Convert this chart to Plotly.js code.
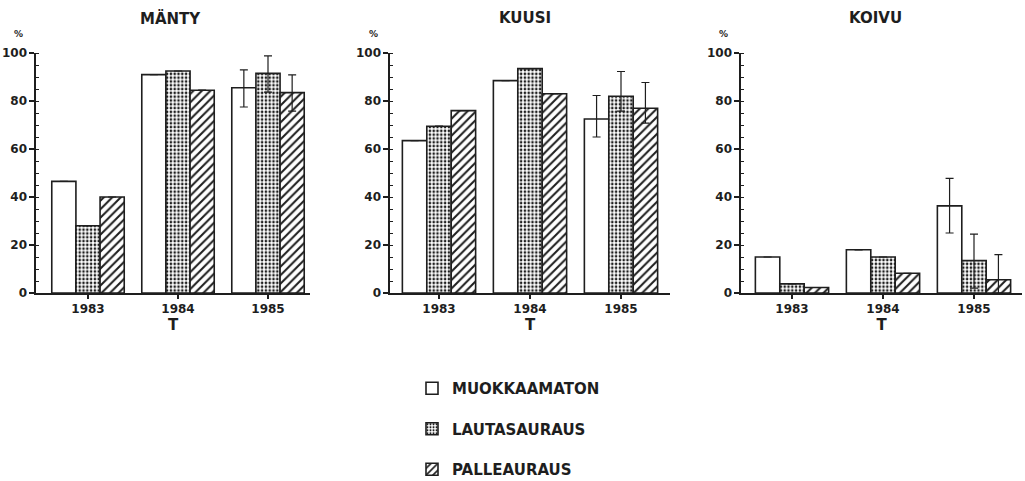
<!DOCTYPE html>
<html><head><meta charset="utf-8">
<script src="https://cdn.plot.ly/plotly-3.0.1.min.js"></script>
<style>html,body{margin:0;padding:0;background:#fff}#chart{width:1025px;height:481px}</style>
</head><body><div id="chart"></div>
<script>
// ---- data ----
const years = ['1983', '1984', '1985'];
const seriesNames = ['MUOKKAAMATON', 'LAUTASAURAUS', 'PALLEAURAUS'];
const panelTitles = ['MÄNTY', 'KUUSI', 'KOIVU'];

// MÄNTY
const mantyMuok = [46.5, 91, 85.5];
const mantyLauta = [28, 92.5, 91.5];
const mantyPalle = [40, 84.5, 83.5];
const mantyMuokErrUp = [null, null, 7.5];
const mantyMuokErrDown = [null, null, 8];
const mantyLautaErrUp = [null, null, 7.3];
const mantyLautaErrDown = [null, null, 7.8];
const mantyPalleErrUp = [null, null, 7.4];
const mantyPalleErrDown = [null, null, 7.7];

// KUUSI
const kuusiMuok = [63.5, 88.5, 72.5];
const kuusiLauta = [69.5, 93.5, 82];
const kuusiPalle = [76, 83, 77];
const kuusiMuokErrUp = [null, null, 9.8];
const kuusiMuokErrDown = [null, null, 7.5];
const kuusiLautaErrUp = [null, null, 10.3];
const kuusiLautaErrDown = [null, null, 6.2];
const kuusiPalleErrUp = [null, null, 10.7];
const kuusiPalleErrDown = [null, null, 6.2];

// KOIVU
const koivuMuok = [15, 18, 36.3];
const koivuLauta = [3.8, 15, 13.5];
const koivuPalle = [2.3, 8.2, 5.5];
const koivuMuokErrUp = [null, null, 11.5];
const koivuMuokErrDown = [null, null, 11.3];
const koivuLautaErrUp = [null, null, 11];
const koivuLautaErrDown = [null, null, 11.5];
const koivuPalleErrUp = [null, null, 10.5];
const koivuPalleErrDown = [null, null, 5.5];

// ---- styling ----
const INK = '#1e1e1e';
const FONT = 'DejaVu Sans, Liberation Sans, Arial, sans-serif';
const patterns = [
  {shape: '', bgcolor: '#ffffff'},
  {shape: '.', fgcolor: INK, bgcolor: '#ffffff', size: 3.8, solidity: 0.38, fillmode: 'replace'},
  {shape: '/', fgcolor: INK, bgcolor: '#ffffff', size: 6, solidity: 0.34, fillmode: 'replace'}
];

const panels = [
  {vals: [mantyMuok, mantyLauta, mantyPalle],
   up: [mantyMuokErrUp, mantyLautaErrUp, mantyPalleErrUp],
   down: [mantyMuokErrDown, mantyLautaErrDown, mantyPalleErrDown]},
  {vals: [kuusiMuok, kuusiLauta, kuusiPalle],
   up: [kuusiMuokErrUp, kuusiLautaErrUp, kuusiPalleErrUp],
   down: [kuusiMuokErrDown, kuusiLautaErrDown, kuusiPalleErrDown]},
  {vals: [koivuMuok, koivuLauta, koivuPalle],
   up: [koivuMuokErrUp, koivuLautaErrUp, koivuPalleErrUp],
   down: [koivuMuokErrDown, koivuLautaErrDown, koivuPalleErrDown]}
];

const W = 1025, H = 481;
// panel geometry in pixels: axis left/right, category centre spacing
const geo = [
  {left: 36, right: 310, first: 88, step: 90},
  {left: 390, right: 670, first: 439, step: 91},
  {left: 741, right: 1022, first: 792, step: 91}
];
const yTopPx = 53, yBotPx = 293;

const traces = [];
panels.forEach((p, pi) => {
  const ax = pi === 0 ? '' : String(pi + 1);
  for (let s = 0; s < 3; s++) {
    traces.push({
      type: 'bar',
      name: seriesNames[s],
      x: years,
      y: p.vals[s],
      xaxis: 'x' + ax,
      yaxis: 'y' + ax,
      legendgroup: 'g' + s,
      showlegend: pi === 0,
      marker: {color: '#ffffff', line: {color: INK, width: 1.6}, pattern: patterns[s]},
      error_y: {type: 'data', symmetric: false, array: p.up[s], arrayminus: p.down[s],
                visible: true, color: INK, thickness: 1.2, width: 4},
      hoverinfo: 'x+y+name'
    });
  }
});

const tickFont = {family: FONT, size: 12, weight: 'bold', color: INK};
const layout = {
  width: W, height: H,
  margin: {l: 0, r: 0, t: 0, b: 0, autoexpand: false},
  paper_bgcolor: '#ffffff', plot_bgcolor: 'rgba(0,0,0,0)',
  barmode: 'group', bargap: 0.195, bargroupgap: 0,
  showlegend: true,
  legend: {x: 412 / W, xanchor: 'left', y: 1 - 372 / H, yanchor: 'top',
           font: {family: FONT, size: 15, weight: 'bold', color: INK},
           tracegroupgap: 18, bgcolor: 'rgba(0,0,0,0)', traceorder: 'grouped'},
  annotations: [],
  font: {family: FONT, color: INK}
};

const titleX = [170, 525, 875];
const pctX = [18, 373, 723];
geo.forEach((g, i) => {
  const ax = i === 0 ? '' : String(i + 1);
  const r0 = (g.left - g.first) / g.step, r1 = (g.right - g.first) / g.step;
  layout['xaxis' + ax] = {
    type: 'category', domain: [g.left / W, g.right / W], range: [r0, r1],
    anchor: 'y' + ax, showline: true, linecolor: INK, linewidth: 1.6,
    ticks: 'outside', ticklen: 4, tickwidth: 1.4, tickcolor: INK,
    tickfont: tickFont, showgrid: false, zeroline: false, fixedrange: true,
    title: {text: 'T', font: {family: FONT, size: 15, weight: 'bold', color: INK}, standoff: 4}
  };
  layout['yaxis' + ax] = {
    domain: [1 - yBotPx / H, 1 - yTopPx / H], range: [0, 100],
    anchor: 'x' + ax, showline: true, linecolor: INK, linewidth: 1.6,
    tickvals: [0, 20, 40, 60, 80, 100],
    ticks: 'outside', ticklen: 5, tickwidth: 1.4, tickcolor: INK,
    minor: {dtick: 5, ticks: 'inside', ticklen: 3, tickwidth: 1, tickcolor: INK},
    tickfont: tickFont, showgrid: false, zeroline: false, fixedrange: true
  };
  layout.annotations.push({
    text: panelTitles[i], xref: 'paper', yref: 'paper',
    x: titleX[i] / W, y: 1 - 18 / H, xanchor: 'center', yanchor: 'middle',
    showarrow: false, font: {family: FONT, size: 15, weight: 'bold', color: INK}
  });
  layout.annotations.push({
    text: '%', xref: 'paper', yref: 'paper',
    x: pctX[i] / W, y: 1 - 34 / H, xanchor: 'center', yanchor: 'middle',
    showarrow: false, font: {family: FONT, size: 9, weight: 'bold', color: INK}
  });
});

Plotly.newPlot('chart', traces, layout, {displayModeBar: false, staticPlot: true});
</script>
</body></html>
